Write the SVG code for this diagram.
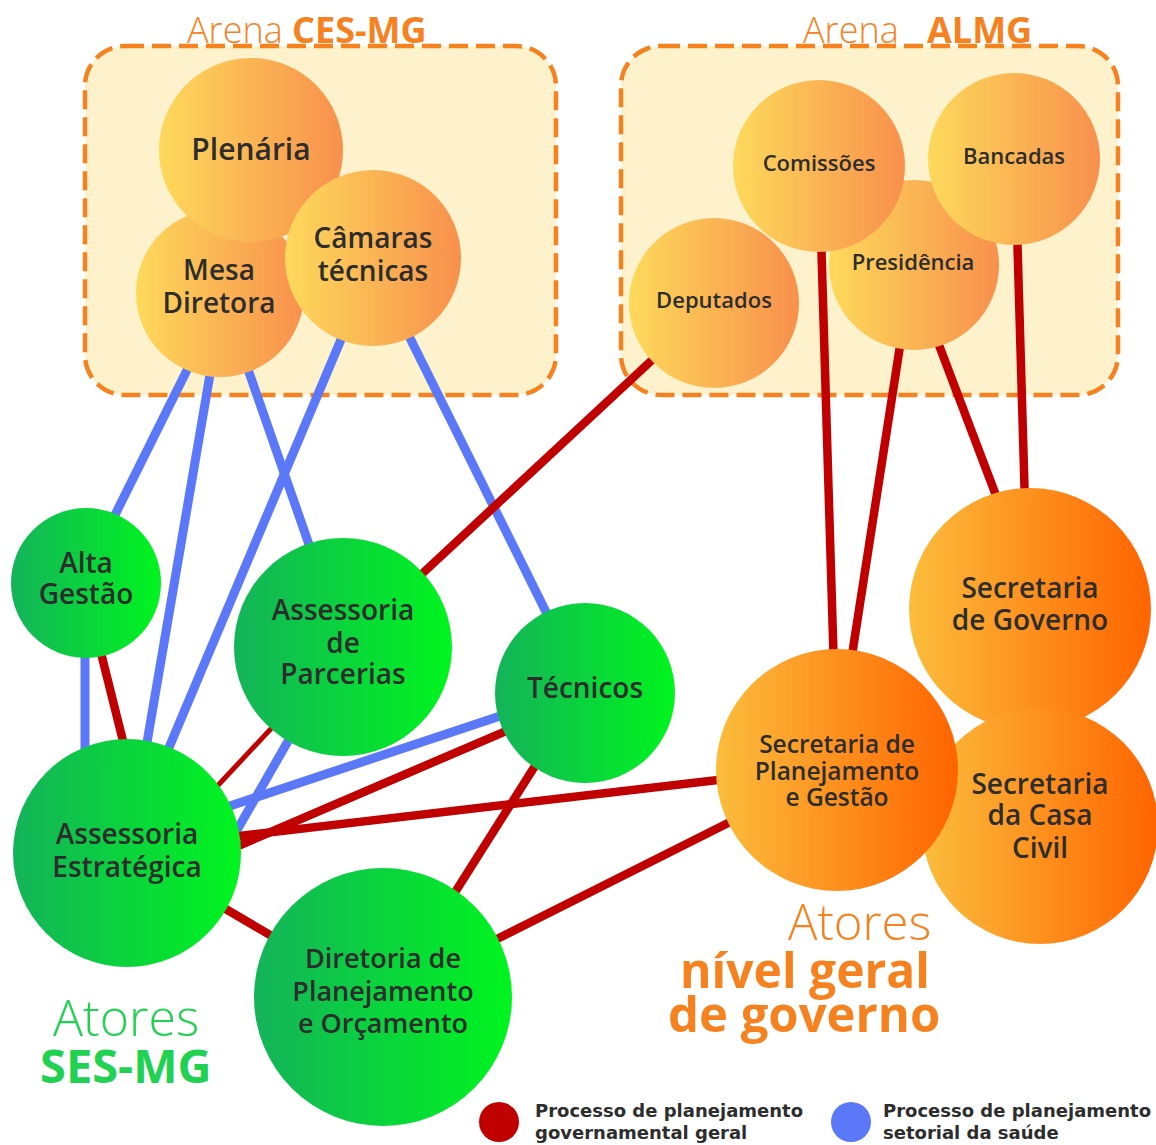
<svg xmlns="http://www.w3.org/2000/svg" width="1156" height="1145" viewBox="0 0 1156 1145">
<defs>
<linearGradient id="gSmall" x1="0" y1="0" x2="1" y2="0"><stop offset="0" stop-color="#fdd95b"/><stop offset="1" stop-color="#f8904c"/></linearGradient>
<linearGradient id="gBig" x1="0" y1="0" x2="1" y2="0"><stop offset="0" stop-color="#fbbd3c"/><stop offset="1" stop-color="#ff6400"/></linearGradient>
<linearGradient id="gGreen" x1="0" y1="0" x2="1" y2="0"><stop offset="0" stop-color="#14b35a"/><stop offset="1" stop-color="#00f51e"/></linearGradient>
<style>
.arena{fill:#fdf2cc;stroke:#f5821f;stroke-width:4.5;stroke-dasharray:19 8}
.title{font-family:"Open Sans","Liberation Sans",sans-serif;fill:#f5821f;font-size:36px}
.light{font-weight:300}
.bold{font-weight:700}
.lbl{font-family:"Open Sans","Liberation Sans",sans-serif;font-weight:600;fill:#2d2d2d;text-anchor:middle}
.red{stroke:#c00000;stroke-width:8.5;fill:none}
.thin{stroke:#c00000;stroke-width:5;fill:none}
.blue{stroke:#5a78f8;stroke-width:9;fill:none}
.leg{font-family:"DejaVu Sans","Liberation Sans",sans-serif;font-weight:700;fill:#2d2d2d;font-size:18px}
.green{fill:#20d152;font-family:"Open Sans","Liberation Sans",sans-serif}
.orange{fill:#f5821f;font-family:"Open Sans","Liberation Sans",sans-serif}
</style>
</defs>
<rect width="1156" height="1145" fill="#ffffff"/>

<g id="arena-ces">
<rect class="arena" x="85" y="46" width="471" height="349" rx="40"/>
<text class="title" x="187" y="43"><tspan class="light">Arena </tspan><tspan class="bold">CES-MG</tspan></text>
</g>
<g id="arena-almg">
<rect class="arena" x="621" y="46" width="497" height="349" rx="40"/>
<text class="title" y="43"><tspan class="light" x="803">Arena</tspan><tspan class="bold" x="927">ALMG</tspan></text>
</g>

<g id="connectors">
<line class="blue" x1="197" y1="350" x2="107" y2="531"/>
<line class="blue" x1="213" y1="357" x2="144" y2="760"/>
<line class="blue" x1="243" y1="355" x2="313" y2="556"/>
<line class="blue" x1="348" y1="323" x2="165" y2="757"/>
<line class="blue" x1="402" y1="322" x2="552" y2="624"/>
<line class="blue" x1="85" y1="640" x2="85" y2="760"/>
<line class="blue" x1="515" y1="711" x2="215" y2="811"/>
<line class="blue" x1="295" y1="729" x2="229" y2="844"/>
<line class="red" x1="665" y1="348" x2="410" y2="585"/>
<line class="red" x1="821" y1="235" x2="834" y2="672"/>
<line class="red" x1="902" y1="333" x2="850" y2="668"/>
<line class="red" x1="934" y1="332" x2="1000" y2="506"/>
<line class="red" x1="1017" y1="228" x2="1025" y2="505"/>
<line class="red" x1="98" y1="641" x2="127" y2="757"/>
<line class="thin" x1="280" y1="719" x2="208" y2="796"/>
<line class="red" x1="520" y1="725" x2="224" y2="852"/>
<line class="red" x1="735" y1="778" x2="222" y2="838"/>
<line class="red" x1="540" y1="758" x2="447" y2="905"/>
<line class="red" x1="744" y1="815" x2="485" y2="945"/>
<line class="red" x1="212" y1="901" x2="282" y2="942"/>
</g>

<g id="mesa-diretora"><circle cx="220" cy="293" r="84" fill="url(#gSmall)"/>
<text class="lbl" font-size="28"><tspan x="219" y="280">Mesa</tspan><tspan x="219" y="313">Diretora</tspan></text></g>
<g id="plenaria"><circle cx="251" cy="150" r="92" fill="url(#gSmall)"/>
<text class="lbl" font-size="30" x="251" y="160">Plenária</text></g>
<g id="camaras-tecnicas"><circle cx="373" cy="258" r="88" fill="url(#gSmall)"/>
<text class="lbl" font-size="28"><tspan x="373" y="248">Câmaras</tspan><tspan x="373" y="281">técnicas</tspan></text></g>

<g id="deputados"><circle cx="714" cy="303" r="85" fill="url(#gSmall)"/>
<text class="lbl" font-size="22" x="714" y="308">Deputados</text></g>
<g id="presidencia"><circle cx="914" cy="265" r="85" fill="url(#gSmall)"/>
<text class="lbl" font-size="22" x="913" y="270">Presidência</text></g>
<g id="comissoes"><circle cx="819" cy="166" r="86" fill="url(#gSmall)"/>
<text class="lbl" font-size="22" x="819" y="171">Comissões</text></g>
<g id="bancadas"><circle cx="1014" cy="159" r="86" fill="url(#gSmall)"/>
<text class="lbl" font-size="22" x="1014" y="164">Bancadas</text></g>

<g id="alta-gestao"><circle cx="86" cy="583" r="75" fill="url(#gGreen)"/>
<text class="lbl" font-size="28"><tspan x="86" y="573">Alta</tspan><tspan x="86" y="604">Gestão</tspan></text></g>
<g id="assessoria-parcerias"><circle cx="343" cy="647" r="109" fill="url(#gGreen)"/>
<text class="lbl" font-size="28"><tspan x="343" y="620">Assessoria</tspan><tspan x="343" y="653">de</tspan><tspan x="343" y="684">Parcerias</tspan></text></g>
<g id="tecnicos"><circle cx="585" cy="693" r="90" fill="url(#gGreen)"/>
<text class="lbl" font-size="28" x="585" y="698">Técnicos</text></g>
<g id="assessoria-estrategica"><circle cx="127" cy="853" r="114" fill="url(#gGreen)"/>
<text class="lbl" font-size="28"><tspan x="127" y="844">Assessoria</tspan><tspan x="127" y="877">Estratégica</tspan></text></g>
<g id="diretoria-planejamento"><circle cx="383" cy="997" r="129" fill="url(#gGreen)"/>
<text class="lbl" font-size="27"><tspan x="383" y="968">Diretoria de</tspan><tspan x="383" y="1001">Planejamento</tspan><tspan x="383" y="1033">e Orçamento</tspan></text></g>

<g id="secretaria-governo"><circle cx="1030" cy="609" r="121" fill="url(#gBig)"/>
<text class="lbl" font-size="28"><tspan x="1030" y="598">Secretaria</tspan><tspan x="1030" y="630">de Governo</tspan></text></g>
<g id="secretaria-casa-civil"><circle cx="1040" cy="826" r="118" fill="url(#gBig)"/>
<text class="lbl" font-size="28"><tspan x="1040" y="794">Secretaria</tspan><tspan x="1040" y="825">da Casa</tspan><tspan x="1040" y="858">Civil</tspan></text></g>
<g id="secretaria-planejamento"><circle cx="837" cy="770" r="121" fill="url(#gBig)"/>
<text class="lbl" font-size="24.5"><tspan x="837" y="753">Secretaria de</tspan><tspan x="837" y="780">Planejamento</tspan><tspan x="837" y="806">e Gestão</tspan></text></g>

<g id="label-ses">
<text class="green light" font-size="50" x="53" y="1036">Atores</text>
<text class="green bold" font-size="47" x="40" y="1083">SES-MG</text>
</g>
<g id="label-governo">
<text class="orange light" font-size="49" x="788" y="940">Atores</text>
<text class="orange bold" font-size="49" x="680" y="988" textLength="250" lengthAdjust="spacingAndGlyphs">nível geral</text>
<text class="orange bold" font-size="49" x="668" y="1032">de governo</text>
</g>

<g id="legend">
<circle cx="499" cy="1122" r="20" fill="#c00000"/>
<text class="leg"><tspan x="535" y="1117">Processo de planejamento</tspan><tspan x="535" y="1139">governamental geral</tspan></text>
<circle cx="851" cy="1122" r="20" fill="#5a78f8"/>
<text class="leg"><tspan x="883" y="1117">Processo de planejamento</tspan><tspan x="883" y="1139">setorial da saúde</tspan></text>
</g>
</svg>
